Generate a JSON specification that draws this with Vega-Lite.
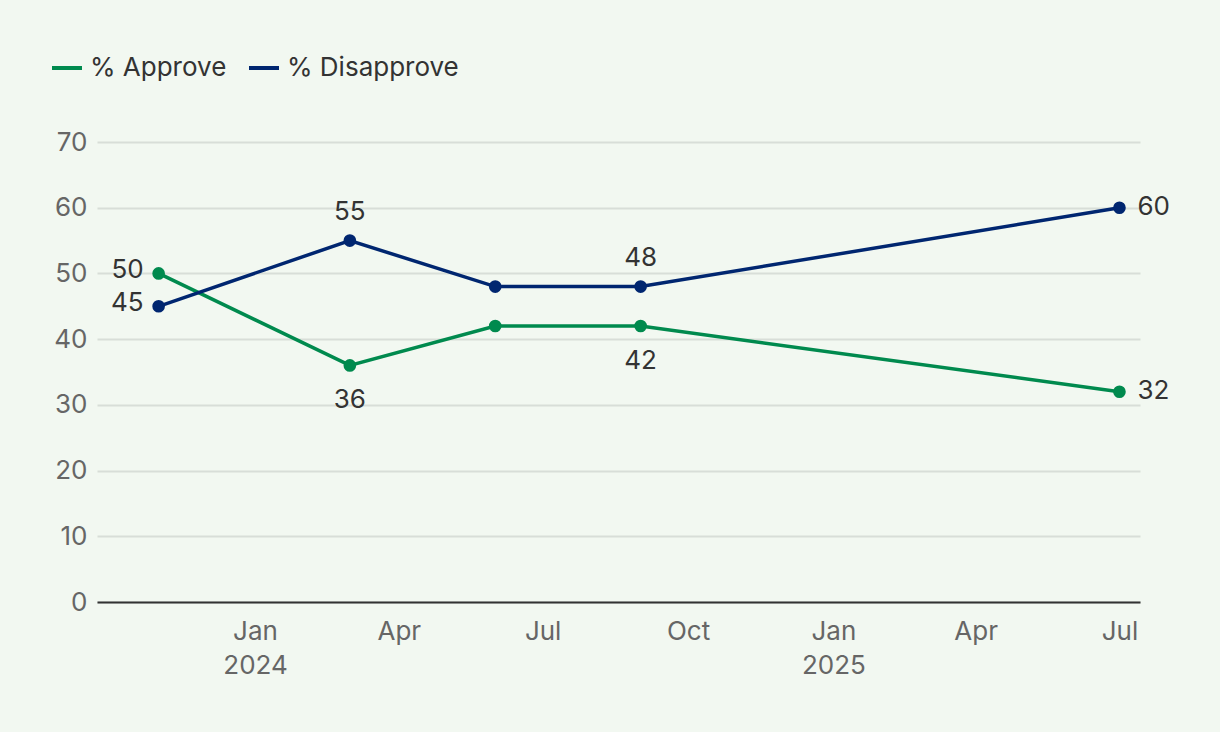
{
  "$schema": "https://vega.github.io/schema/vega-lite/v6.json",
  "width": 1043,
  "height": 460,
  "autosize": {"type": "none"},
  "padding": {"left": 97, "top": 142, "right": 80, "bottom": 130},
  "background": "#f2f8f1",
  "config": {
    "view": {"stroke": null},
    "font": "Inter",
    "axis": {"labelFont": "Inter", "titleFont": "Inter"},
    "legend": {"labelFont": "Inter"}
  },
  "data": {
    "values": [
      {"date": "2023-11-01", "series": "% Approve", "value": 50},
      {"date": "2024-03-01", "series": "% Approve", "value": 36},
      {"date": "2024-06-01", "series": "% Approve", "value": 42},
      {"date": "2024-09-01", "series": "% Approve", "value": 42},
      {"date": "2025-07-01", "series": "% Approve", "value": 32},
      {"date": "2023-11-01", "series": "% Disapprove", "value": 45},
      {"date": "2024-03-01", "series": "% Disapprove", "value": 55},
      {"date": "2024-06-01", "series": "% Disapprove", "value": 48},
      {"date": "2024-09-01", "series": "% Disapprove", "value": 48},
      {"date": "2025-07-01", "series": "% Disapprove", "value": 60}
    ]
  },
  "encoding": {
    "x": {
      "field": "date",
      "type": "temporal",
      "scale": {"domain": [{"year": 2023, "month": 9, "date": 23}, {"year": 2025, "month": 7, "date": 14}]},
      "axis": {
        "title": null,
        "grid": false,
        "ticks": false,
        "domainColor": "#333333",
        "domainWidth": 2,
        "labelColor": "#666666",
        "labelFontSize": 26,
        "labelPadding": 16,
        "labelLineHeight": 34,
        "labelBaseline": "top",
        "labelFlush": false,
        "values": [
          {"year": 2024, "month": 1, "date": 1},
          {"year": 2024, "month": 4, "date": 1},
          {"year": 2024, "month": 7, "date": 1},
          {"year": 2024, "month": 10, "date": 1},
          {"year": 2025, "month": 1, "date": 1},
          {"year": 2025, "month": 4, "date": 1},
          {"year": 2025, "month": 7, "date": 1}
        ],
        "labelExpr": "month(datum.value) == 0 ? [timeFormat(datum.value, '%b'), timeFormat(datum.value, '%Y')] : timeFormat(datum.value, '%b')"
      }
    },
    "y": {
      "field": "value",
      "type": "quantitative",
      "scale": {"domain": [0, 70]},
      "axis": {
        "title": null,
        "values": [0, 10, 20, 30, 40, 50, 60, 70],
        "domain": false,
        "ticks": false,
        "gridColor": "#d8ded8",
        "gridWidth": 2,
        "labelColor": "#666666",
        "labelFontSize": 26,
        "labelPadding": 10
      }
    },
    "color": {
      "field": "series",
      "type": "nominal",
      "scale": {"domain": ["% Approve", "% Disapprove"], "range": ["#008a4e", "#002670"]},
      "legend": {
        "title": null,
        "orient": "none",
        "direction": "horizontal",
        "legendX": -47,
        "legendY": -91,
        "symbolType": "stroke",
        "symbolStrokeWidth": 4,
        "symbolSize": 900,
        "labelFontSize": 26,
        "labelColor": "#333333",
        "labelLimit": 400,
        "columnPadding": 14,
        "labelOffset": 6
      }
    }
  },
  "layer": [
    {
      "mark": {"type": "line", "strokeWidth": 3.5, "point": {"filled": true, "size": 160, "opacity": 1}}
    },
    {
      "transform": [{"filter": "year(datum.date) == 2023"}],
      "mark": {"type": "text", "align": "right", "baseline": "middle", "dx": -15, "dy": -3, "fontSize": 26, "color": "#333333"},
      "encoding": {"text": {"field": "value", "type": "quantitative"}, "color": {"value": "#333333"}}
    },
    {
      "transform": [{"filter": "year(datum.date) == 2025"}],
      "mark": {"type": "text", "align": "left", "baseline": "middle", "dx": 18, "dy": -1, "fontSize": 26, "color": "#333333"},
      "encoding": {"text": {"field": "value", "type": "quantitative"}, "color": {"value": "#333333"}}
    },
    {
      "transform": [{"filter": "year(datum.date) == 2024 && month(datum.date) != 5 && datum.series == '% Disapprove'"}],
      "mark": {"type": "text", "align": "center", "baseline": "middle", "dy": -29, "fontSize": 26, "color": "#333333"},
      "encoding": {"text": {"field": "value", "type": "quantitative"}, "color": {"value": "#333333"}}
    },
    {
      "transform": [{"filter": "year(datum.date) == 2024 && month(datum.date) != 5 && datum.series == '% Approve'"}],
      "mark": {"type": "text", "align": "center", "baseline": "middle", "dy": 35, "fontSize": 26, "color": "#333333"},
      "encoding": {"text": {"field": "value", "type": "quantitative"}, "color": {"value": "#333333"}}
    }
  ]
}
